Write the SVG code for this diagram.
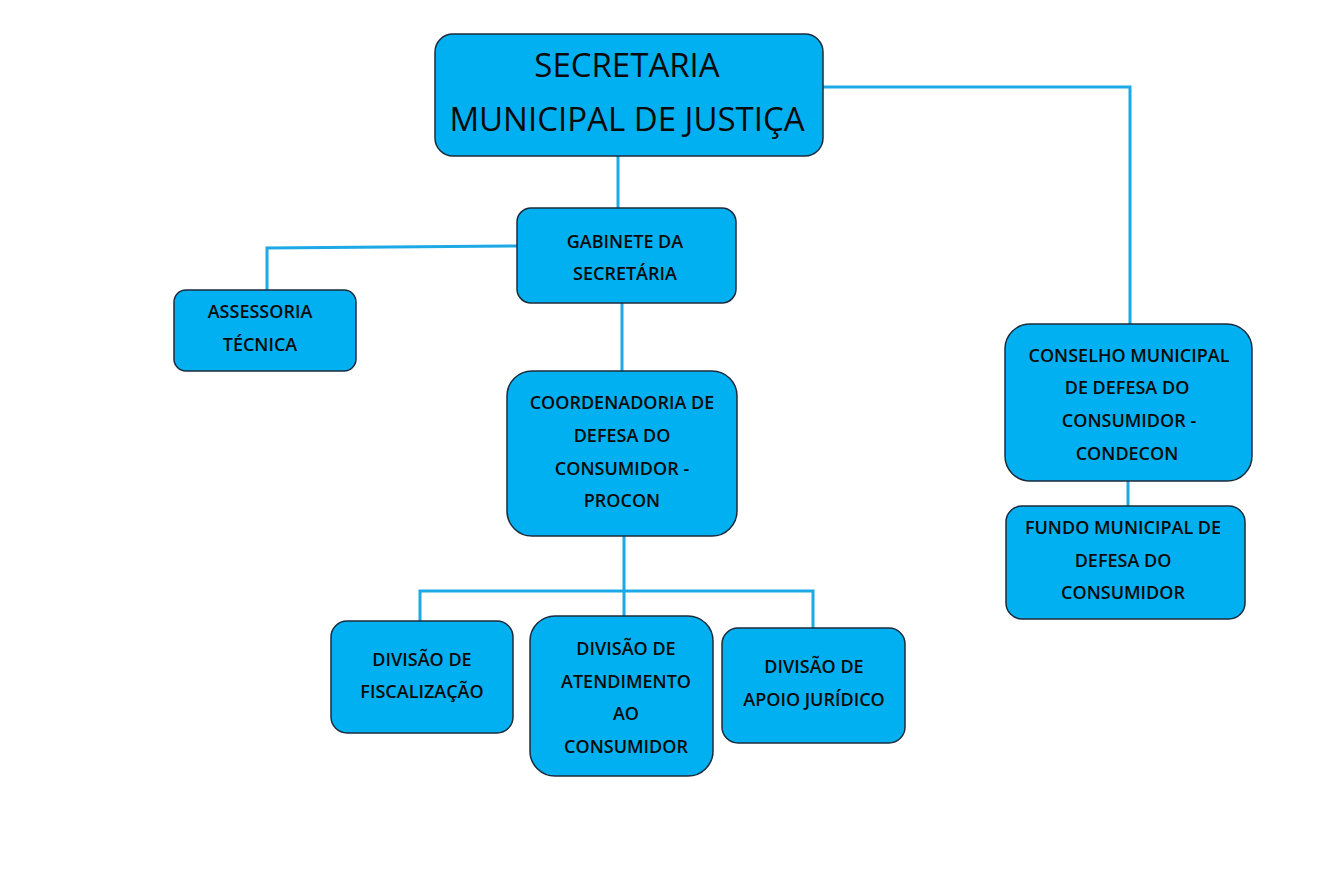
<svg xmlns="http://www.w3.org/2000/svg" width="1334" height="885" viewBox="0 0 1334 885">
<style>
.box{fill:#00B0F0;stroke:#1B2B3C;stroke-width:1.5}
.t{font-family:"Open Sans","Noto Sans",sans-serif;font-size:18px;font-weight:600;fill:#0A0A0A;text-anchor:middle}
.big{font-size:33px;font-weight:400}
.c{fill:none;stroke:#1CA9E6;stroke-width:3;stroke-linejoin:miter}
</style>
<rect width="1334" height="885" fill="#FFFFFF"/>
<g id="connectors">
<path class="c" d="M618 156V208"/>
<path class="c" d="M823 87H1130V324"/>
<path class="c" d="M517 246L267 248V290"/>
<path class="c" d="M622 303V371"/>
<path class="c" d="M624 536V591"/>
<path class="c" d="M420 621V591H813V628"/>
<path class="c" d="M624 591V616"/>
<path class="c" d="M1128 481V506"/>
</g>
<g id="secretaria">
<rect class="box" x="435" y="34" width="388" height="122" rx="18"/>
<text class="t big" x="627" y="77">SECRETARIA</text>
<text class="t big" x="627" y="131">MUNICIPAL DE JUSTIÇA</text>
</g>
<g id="gabinete">
<rect class="box" x="517" y="208" width="219" height="95" rx="14"/>
<text class="t" x="625" y="248">GABINETE DA</text>
<text class="t" x="625" y="280">SECRETÁRIA</text>
</g>
<g id="assessoria">
<rect class="box" x="174" y="290" width="182" height="81" rx="12"/>
<text class="t" x="260" y="318">ASSESSORIA</text>
<text class="t" x="260" y="351">TÉCNICA</text>
</g>
<g id="procon">
<rect class="box" x="507" y="371" width="230" height="165" rx="25"/>
<text class="t" x="622" y="409">COORDENADORIA DE</text>
<text class="t" x="622" y="442">DEFESA DO</text>
<text class="t" x="622" y="475">CONSUMIDOR -</text>
<text class="t" x="622" y="507">PROCON</text>
</g>
<g id="fiscalizacao">
<rect class="box" x="331" y="621" width="182" height="112" rx="16"/>
<text class="t" x="422" y="666">DIVISÃO DE</text>
<text class="t" x="422" y="698">FISCALIZAÇÃO</text>
</g>
<g id="atendimento">
<rect class="box" x="530" y="616" width="183" height="160" rx="25"/>
<text class="t" x="626" y="655">DIVISÃO DE</text>
<text class="t" x="626" y="688">ATENDIMENTO</text>
<text class="t" x="626" y="720">AO</text>
<text class="t" x="626" y="753">CONSUMIDOR</text>
</g>
<g id="juridico">
<rect class="box" x="722" y="628" width="183" height="115" rx="16"/>
<text class="t" x="814" y="673">DIVISÃO DE</text>
<text class="t" x="814" y="706">APOIO JURÍDICO</text>
</g>
<g id="condecon">
<rect class="box" x="1005" y="324" width="247" height="157" rx="25"/>
<text class="t" x="1129" y="362">CONSELHO MUNICIPAL</text>
<text class="t" x="1127" y="394">DE DEFESA DO</text>
<text class="t" x="1129" y="427">CONSUMIDOR -</text>
<text class="t" x="1127" y="460">CONDECON</text>
</g>
<g id="fundo">
<rect class="box" x="1006" y="506" width="239" height="113" rx="16"/>
<text class="t" x="1123" y="534">FUNDO MUNICIPAL DE</text>
<text class="t" x="1123" y="567">DEFESA DO</text>
<text class="t" x="1123" y="599">CONSUMIDOR</text>
</g>
</svg>
